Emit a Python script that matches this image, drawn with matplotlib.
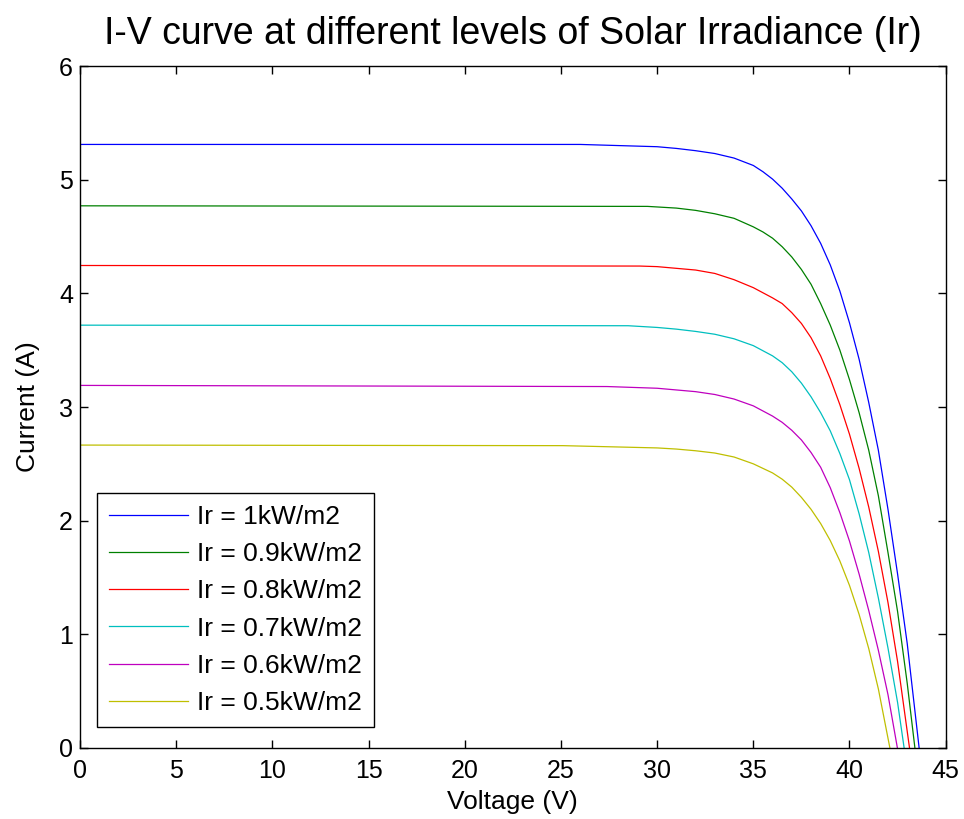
#!/usr/bin/env python3
import matplotlib
matplotlib.use("Agg")
import matplotlib.pyplot as plt

# I-V samples (voltage in V, current in A) for each irradiance level
v_1000 = [0, 26.0, 30, 31, 32, 33, 34, 35, 35.5, 36, 36.5, 37, 37.5, 38, 38.5, 39, 39.5, 40,
          40.5, 41, 41.5, 42, 42.5, 43, 43.62]
i_1000 = [5.31, 5.31, 5.29, 5.275, 5.255, 5.23, 5.19, 5.125, 5.07, 5.005, 4.925, 4.83, 4.725,
          4.595, 4.44, 4.25, 4.02, 3.74, 3.42, 3.04, 2.62, 2.10, 1.53, 0.92, 0.0]

v_900 = [0, 29.5, 30, 31, 32, 33, 34, 35, 35.5, 36, 36.5, 37, 37.5, 38, 38.5, 39, 39.5, 40,
         40.5, 41, 41.5, 42, 42.5, 43, 43.4]
i_900 = [4.77, 4.765, 4.76, 4.75, 4.73, 4.70, 4.66, 4.585, 4.54, 4.485, 4.41, 4.32, 4.21, 4.08,
         3.91, 3.72, 3.50, 3.24, 2.95, 2.62, 2.22, 1.72, 1.20, 0.57, 0.0]

v_800 = [0, 29.1, 30, 31, 32, 33, 34, 35, 36, 36.5, 37, 37.5, 38, 38.5, 39, 39.5, 40, 40.5,
         41, 41.5, 42, 42.5, 43.12]
i_800 = [4.245, 4.24, 4.235, 4.22, 4.205, 4.175, 4.12, 4.05, 3.96, 3.91, 3.83, 3.735, 3.61, 3.45,
         3.25, 3.02, 2.76, 2.46, 2.12, 1.73, 1.28, 0.76, 0.0]

v_700 = [0, 28.5, 30, 31, 32, 33, 34, 35, 36, 36.5, 37, 37.5, 38, 38.5, 39, 39.5, 40, 40.5,
         41, 41.5, 42, 42.5, 42.84]
i_700 = [3.72, 3.715, 3.70, 3.685, 3.665, 3.64, 3.60, 3.54, 3.45, 3.39, 3.31, 3.21, 3.09, 2.95,
         2.79, 2.59, 2.36, 2.06, 1.72, 1.32, 0.88, 0.40, 0.0]

v_600 = [0, 27.4, 30, 31, 32, 33, 34, 35, 36, 36.5, 37, 37.5, 38, 38.5, 39, 39.5, 40, 40.5,
         41, 41.5, 42, 42.49]
i_600 = [3.19, 3.18, 3.165, 3.15, 3.135, 3.11, 3.07, 3.01, 2.92, 2.865, 2.795, 2.71, 2.60, 2.47,
         2.29, 2.07, 1.82, 1.53, 1.21, 0.86, 0.47, 0.0]

v_500 = [0, 25.1, 30, 31, 32, 33, 34, 35, 36, 36.5, 37, 37.5, 38, 38.5, 39, 39.5, 40, 40.5,
         41, 41.5, 42.1]
i_500 = [2.665, 2.66, 2.64, 2.63, 2.615, 2.595, 2.56, 2.50, 2.42, 2.365, 2.295, 2.205, 2.10, 1.975,
         1.825, 1.645, 1.43, 1.175, 0.875, 0.52, 0.0]

labels = ["Ir = 1kW/m2", "Ir = 0.9kW/m2", "Ir = 0.8kW/m2",
          "Ir = 0.7kW/m2", "Ir = 0.6kW/m2", "Ir = 0.5kW/m2"]
x_ticks = [0, 5, 10, 15, 20, 25, 30, 35, 40, 45]
y_ticks = [0, 1, 2, 3, 4, 5, 6]


def main():
    plt.rcParams["font.family"] = ["Liberation Sans", "DejaVu Sans"]
    plt.rcParams["font.size"] = 18

    fig = plt.figure(figsize=(9.64, 8.19), dpi=100)
    ax = fig.add_axes([0.083, 0.0867, 0.898, 0.8327])

    curves = [(v_1000, i_1000), (v_900, i_900), (v_800, i_800),
              (v_700, i_700), (v_600, i_600), (v_500, i_500)]
    # classic b g r c m y colour order
    colors = ["#0000ff", "#008000", "#ff0000", "#00bfbf", "#bf00bf", "#bfbf00"]

    for (v, i), c, lab in zip(curves, colors, labels):
        ax.plot(v, i, color=c, linewidth=0.9, label=lab)

    ax.set_xlim(0, 45)
    ax.set_ylim(0, 6)
    ax.set_xticks(x_ticks)
    ax.set_yticks(y_ticks)

    ax.tick_params(axis="both", direction="in", length=6, width=1.0,
                   top=True, right=True, labelsize=18)
    ax.tick_params(axis="x", pad=8)
    ax.tick_params(axis="y", pad=5)
    for sp in ax.spines.values():
        sp.set_linewidth(1.0)

    ax.set_title("I-V curve at different levels of Solar Irradiance (Ir)",
                 fontsize=27, pad=16)
    ax.set_xlabel("Voltage (V)", fontsize=19, labelpad=5)
    ax.set_ylabel("Current (A)", fontsize=19, labelpad=14)

    leg = ax.legend(loc="lower left", bbox_to_anchor=(0.0196, 0.031),
                    borderaxespad=0, fancybox=False, shadow=False,
                    edgecolor="black", fontsize=19, handlelength=3.0,
                    handletextpad=0.35, labelspacing=0.5, borderpad=0.45)
    leg.get_frame().set_linewidth(1.0)
    leg.get_frame().set_alpha(1.0)

    fig.savefig("out.png", dpi=100)
    plt.close(fig)


if __name__ == "__main__":
    main()
